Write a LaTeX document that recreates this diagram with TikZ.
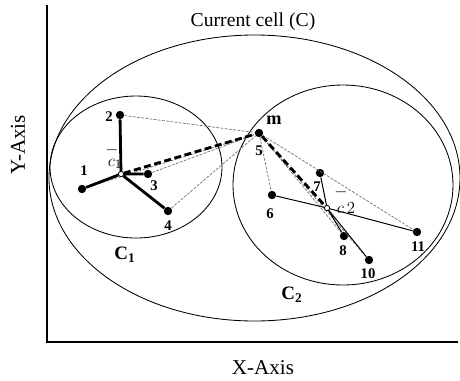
\documentclass[tikz,border=0pt]{standalone}
\usepackage{amsmath}
\usepackage{fontspec}
\setmainfont{Liberation Serif}
\usetikzlibrary{positioning}
\tikzset{
  pt/.style={circle,fill=black,inner sep=2.1pt},
  ctr/.style={circle,draw=black,fill=white,line width=0.5pt,inner sep=1.3pt},
  ptlbl/.style={font=\bfseries\fontsize{10.5}{12}\selectfont,inner sep=1pt},
  clbl/.style={font=\bfseries\fontsize{13.5}{15}\selectfont,inner sep=1pt},
  axlbl/.style={font=\fontsize{15}{17}\selectfont},
  axis/.style={line width=0.8pt},
  cell/.style={line width=0.6pt},
  memb/.style={line width=2pt},
  link/.style={line width=2pt,dash pattern=on 5pt off 2.5pt},
  dist/.style={black!55,line width=0.5pt,dash pattern=on 2pt off 1pt},
  cdist/.style={line width=0.7pt},
  cbar/.style={inner sep=0pt,font=\fontsize{13}{15}\selectfont},
}
\begin{document}
\begin{tikzpicture}[x=0.25mm,y=-0.25mm]
  \useasboundingbox (0,0) rectangle (460,380);
  % axes
  \coordinate (ytop) at (47,5);
  \coordinate (orig) at (47,342);
  \coordinate (xend) at (458,342);
  \draw[axis] (ytop) -- (orig) -- (xend);
  \node[axlbl,rotate=90] (ylab) at (18,145) {Y-Axis};
  \node[axlbl] (xlab) at (263,368) {X-Axis};
  % cells
  \draw[cell] (254.5,178) ellipse (205.5 and 143);
  \node[font=\fontsize{14}{16}\selectfont] (cur) at (253,22) {Current cell (C)};
  \draw[cell] (136,167) ellipse (86 and 71);
  \draw[cell] (343,185) ellipse (110 and 100);
  \node[clbl] (c1lab) at (125,255) {C$_{\mathbf{1}}$};
  \node[clbl] (c2lab) at (292,295) {C$_{\mathbf{2}}$};
  % points
  \node[pt] (p1) at (82,189) {};
  \node[pt] (p2) at (120,115) {};
  \node[pt] (p3) at (148,174) {};
  \node[pt] (p4) at (168,211) {};
  \node[pt] (p5) at (259,133) {};
  \node[pt] (p6) at (272,195) {};
  \node[pt] (p7) at (320,173) {};
  \node[pt] (p8) at (344,236) {};
  \node[pt] (p10) at (369,260) {};
  \node[pt] (p11) at (417,232) {};
  \node[ctr] (c1) at (121,174) {};
  \node[ctr] (c2) at (327,208) {};
  % distances to m
  \draw[dist] (p2) -- (p5);
  \draw[dist] (p1) -- (p5);
  \draw[dist] (p3) -- (p5);
  \draw[dist] (p4) -- (p5);
  \draw[dist] (p5) -- (p6);
  \draw[dist] (p5) -- (p8);
  \draw[dist] (p5) -- (p10);
  \draw[dist] (p5) -- (p11);
  % cluster members
  \draw[memb] (c1) -- (p1) (c1) -- (p2) (c1) -- (p3) (c1) -- (p4);
  \draw[cdist] (c2) -- (p6) (c2) -- (p7) (c2) -- (p8) (c2) -- (p10) (c2) -- (p11);
  \draw[link] (c1) -- (p5) (p5) -- (c2);
  \node[ctr] at (c1) {};
  \node[ctr] at (c2) {};
  % labels
  \node[ptlbl] at (84,171) {1};
  \node[ptlbl] at (109,117) {2};
  \node[ptlbl] at (154,186) {3};
  \node[ptlbl] at (168,226) {4};
  \node[ptlbl] at (259,151) {5};
  \node[ptlbl,font=\bfseries\fontsize{13}{15}\selectfont] at (274,120) {m};
  \node[ptlbl] at (270,214) {6};
  \node[ptlbl] at (317,187) {7};
  \node[ptlbl] at (343,251) {8};
  \node[ptlbl] at (368,274) {10};
  \node[ptlbl] at (418,247) {11};
  \node[cbar] (c1bar) at (112,150) {$-$};
  \node[cbar] (c1lbl) at (115,164) {$c_{1}$};
  \node[cbar] (c2bar) at (341,192) {$-$};
  \node[cbar] (c2lbl) at (346,208) {$c\,2$};
\end{tikzpicture}
\end{document}
